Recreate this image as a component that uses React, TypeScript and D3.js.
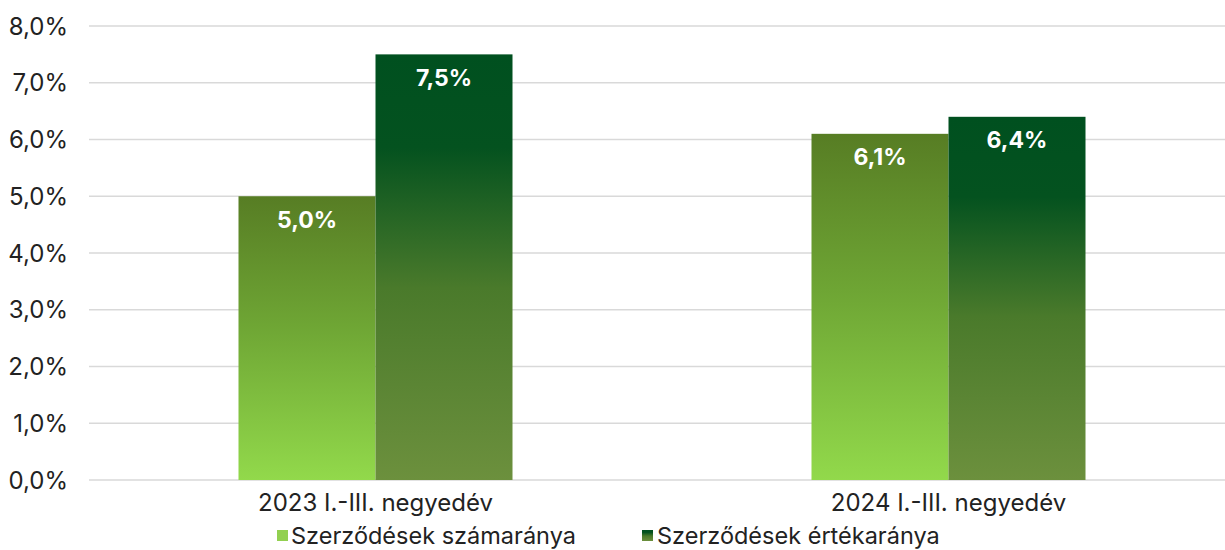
import React from "react";
import * as d3 from "d3";

const categories = ["2023 I.-III. negyedév", "2024 I.-III. negyedév"];
const seriesNames = ["Szerződések számaránya", "Szerződések értékaránya"];
const countShare = [5.0, 6.1];
const valueShare = [7.5, 6.4];
const yTicks = [0, 1, 2, 3, 4, 5, 6, 7, 8];

const W = 1225;
const H = 550;
const FONT = "Inter, 'Liberation Sans', Arial, sans-serif";

export default function App() {
  const x = d3.scaleBand<string>().domain(categories).range([89, 1235]).paddingInner(0).paddingOuter(0);
  const y = d3.scaleLinear().domain([0, 8]).range([480, 26]);
  const barW = 137;
  const fmt = (v: number) => v.toFixed(1).replace(".", ",") + "%";
  const series = [countShare, valueShare];
  return (
    <svg width={W} height={H} style={{ position: "absolute", left: 0, top: 0, background: "#fff" }}>
      <defs>
        <linearGradient id="gLight" x1="0" y1="0" x2="0" y2="1">
          <stop offset="0" stopColor="#577d24" />
          <stop offset="0.45" stopColor="#6ea534" />
          <stop offset="1" stopColor="#92d94b" />
        </linearGradient>
        <linearGradient id="gDark" x1="0" y1="0" x2="0" y2="1">
          <stop offset="0" stopColor="#00501f" />
          <stop offset="0.22" stopColor="#04521f" />
          <stop offset="0.55" stopColor="#4a7a2b" />
          <stop offset="1" stopColor="#6c903d" />
        </linearGradient>
      </defs>
      {yTicks.map((t) => (
        <g key={t}>
          <line x1={89} x2={1225} y1={y(t)} y2={y(t)} stroke="#d9d9d9" strokeWidth={1.5} />
          <text x={68} y={y(t)} dy="0.36em" textAnchor="end" fontFamily={FONT} fontSize={24} fill="#222">
            {fmt(t)}
          </text>
        </g>
      ))}
      {categories.map((c, i) => {
        const cx = (x(c) as number) + x.bandwidth() / 2;
        return (
          <g key={c}>
            {series.map((s, j) => {
              const bx = cx - barW + j * barW;
              const top = y(s[i]);
              return (
                <g key={j}>
                  <rect x={bx} y={top} width={barW} height={y(0) - top} fill={j === 0 ? "url(#gLight)" : "url(#gDark)"} />
                  <text x={bx + barW / 2} y={top + 23} dy="0.36em" textAnchor="middle" fontFamily={FONT} fontWeight={700} fontSize={23} fill="#fff">
                    {fmt(s[i])}
                  </text>
                </g>
              );
            })}
            <text x={cx} y={502} dy="0.36em" textAnchor="middle" fontFamily={FONT} fontSize={24} fill="#222">
              {c}
            </text>
          </g>
        );
      })}
      <g>
        <rect x={277} y={530} width={11} height={11} fill="#92d050" />
        <text x={291} y={536} dy="0.36em" fontFamily={FONT} fontSize={23.5} fill="#222">{seriesNames[0]}</text>
        <rect x={642} y={530} width={11} height={11} fill="url(#gDark)" />
        <text x={657} y={536} dy="0.36em" fontFamily={FONT} fontSize={23.5} fill="#222">{seriesNames[1]}</text>
      </g>
    </svg>
  );
}
